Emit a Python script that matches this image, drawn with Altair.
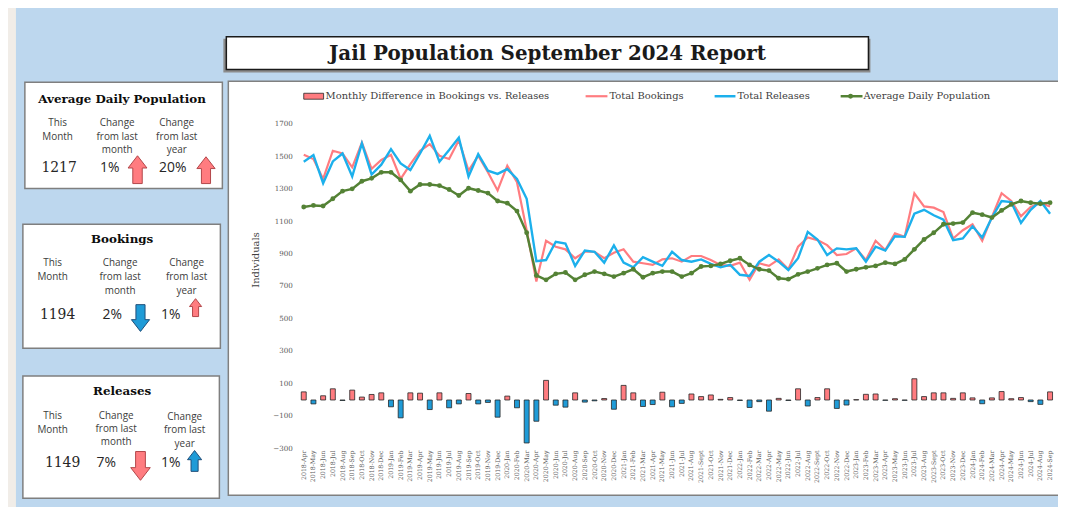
import altair as alt
import pandas as pd

# ---------------- data ----------------
month_abbr = ["Jan", "Feb", "Mar", "Apr", "May", "Jun", "Jul", "Aug", "Sep", "Oct", "Nov", "Dec"]
months = []
for yr in range(2018, 2025):
    for i, m in enumerate(month_abbr):
        if yr == 2018 and i < 3:
            continue
        if yr == 2024 and i > 8:
            continue
        if m == "Sep" and yr in (2021, 2022, 2023):
            m = "Sept"
        months.append(f"{yr}-{m}")

bookings = [1512, 1486, 1363, 1537, 1520, 1435, 1588, 1425, 1480, 1512,
            1363, 1455, 1537, 1578, 1506, 1486, 1602, 1414, 1506, 1404,
            1292, 1445, 1343, 1047, 730, 982, 945, 929, 874, 914,
            914, 874, 908, 929, 853, 843, 833, 867, 874, 853,
            888, 888, 863, 833, 827, 847, 741, 843, 827, 867,
            806, 945, 1002, 986, 955, 894, 900, 935, 863, 982,
            925, 1027, 1006, 1275, 1194, 1186, 1159, 996, 1047, 1084,
            982, 1129, 1275, 1227, 1133, 1190, 1214, 1194]

releases = [1469, 1510, 1337, 1471, 1520, 1378, 1582, 1390, 1451, 1547,
            1459, 1418, 1520, 1629, 1469, 1541, 1618, 1378, 1516, 1414,
            1394, 1424, 1363, 1241, 856, 863, 976, 965, 827, 921,
            914, 847, 953, 847, 818, 880, 853, 827, 914, 863,
            853, 867, 839, 818, 833, 772, 765, 853, 894, 853,
            802, 874, 1037, 990, 894, 935, 929, 935, 853, 945,
            921, 1010, 1006, 1149, 1173, 1139, 1112, 986, 996, 1071,
            1002, 1125, 1227, 1220, 1092, 1173, 1227, 1149]

adp = [1190, 1200, 1196, 1241, 1288, 1302, 1349, 1367, 1404, 1404,
       1357, 1288, 1329, 1329, 1322, 1298, 1261, 1306, 1292, 1276,
       1227, 1214, 1165, 1031, 768, 741, 778, 786, 741, 772,
       792, 778, 761, 782, 806, 757, 782, 792, 792, 761,
       782, 823, 827, 839, 859, 874, 833, 806, 798, 751,
       745, 775, 792, 812, 833, 843, 792, 806, 818, 827,
       847, 839, 867, 929, 990, 1031, 1084, 1088, 1094, 1155,
       1143, 1125, 1169, 1206, 1227, 1216, 1210, 1217]

diff = [50, -24, 26, 69, -3, 61, 18, 34, 44, -42,
        -110, 44, 42, -59, 44, -48, -24, 40, -24, -15,
        -106, 24, -48, -265, -131, 121, -32, -44, 44, -13,
        -5, 9, -57, 90, 44, -40, -28, 48, -42, -21,
        37, 21, 31, 4, 15, -3, -46, -10, -69, 10,
        -3, 69, -37, 15, 69, -52, -31, 2, 35, 37,
        -2, 8, -2, 131, 21, 44, 44, 10, 44, 13,
        -23, 13, 52, 8, 15, -10, -27, 50]

y_ticks = [1700, 1500, 1300, 1100, 900, 700, 500, 300, 100, -100, -300]

legend_labels = ["Monthly Difference in Bookings vs. Releases", "Total Bookings",
                 "Total Releases", "Average Daily Population"]

panel_titles = ["Average Daily Population", "Bookings", "Releases"]
this_month = ["1217", "1194", "1149"]
chg_month = ["1%", "2%", "7%"]
chg_year = ["20%", "1%", "1%"]

df = pd.DataFrame({"month": months, "bookings": bookings, "releases": releases,
                   "adp": adp, "diff": diff})
ticks_df = pd.DataFrame({"tick": y_ticks})
dummy = pd.DataFrame({"a": [0]})

# ---------------- style ----------------
SERIF = "DejaVu Serif"
SANS = "Open Sans"
BEIGE = "#F1EDE8"
PANEL_BLUE = "#BDD7EE"
RED = "#FF7C80"
BLUE = "#1CB0EC"
BAR_BLUE = "#1F9BD7"
GREEN = "#548235"
DARK = "#404040"

OX, OY = 8, 8
def px(x):
    return x - OX
def py(y):
    return y - OY

base = alt.Chart(dummy)

def box(x1, y1, x2, y2, fill, stroke=None, sw=0.0):
    kw = dict(fill=fill)
    if stroke:
        kw.update(stroke=stroke, strokeWidth=sw)
    return base.mark_rect(**kw).encode(
        x=alt.value(px(x1)), x2=alt.value(px(x2)),
        y=alt.value(py(y1)), y2=alt.value(py(y2)))

def txt(s, x, y, size, font=SERIF, weight="normal", color=DARK, align="center", angle=0):
    kw = dict(text=s, fontSize=size, font=font, fontWeight=weight, color=color,
              align=align, baseline="middle")
    if angle:
        kw["angle"] = angle
    return base.mark_text(**kw).encode(x=alt.value(px(x)), y=alt.value(py(y)))

UP = "M0,-1 L0.68,-0.12 L0.34,-0.12 L0.34,1 L-0.34,1 L-0.34,-0.12 L-0.68,-0.12 Z"
DOWN = "M0,1 L0.68,0.12 L0.34,0.12 L0.34,-1 L-0.34,-1 L-0.34,0.12 L-0.68,0.12 Z"

def arrow(cx, cy, h, up, red):
    fill = RED if red else BAR_BLUE
    stroke = "#B2474A" if red else "#1F4E79"
    return base.mark_point(shape=UP if up else DOWN, filled=True, fill=fill, stroke=stroke,
                           strokeWidth=1, opacity=1, size=h * h).encode(
        x=alt.value(px(cx)), y=alt.value(py(cy)))

layers = []
# background panel
layers.append(box(16, 0, 1080, 520, PANEL_BLUE))
# title box
layers.append(box(225, 37, 877, 71, "#8C8C8C"))
layers.append(box(228, 35, 875, 68, "white", "#1a1a1a", 1.5))
layers.append(txt("Jail Population September 2024 Report", 551.5, 52, 20, weight="bold",
                  color="#1a1a1a"))

# left panels
panels = [(25, 81, 224, 188), (23, 224, 222, 349), (23, 377, 221, 500)]
for (x1, y1, x2, y2) in panels:
    layers.append(box(x1, y1, x2, y2, "white", "#7F7F7F", 1.5))

# chart box
layers.append(box(230, 80, 1080, 497, "white", "#808080", 1.5))

# panel 1
layers.append(txt(panel_titles[0], 123, 98, 12, weight="bold", color="#0D0D0D"))
for s, yy in zip(["This", "Month"], [122, 136]):
    layers.append(txt(s, 58, yy, 10, font=SANS))
for s, yy in zip(["Change", "from last", "month"], [122, 136, 149]):
    layers.append(txt(s, 118, yy, 10, font=SANS))
for s, yy in zip(["Change", "from last", "year"], [122, 136, 149]):
    layers.append(txt(s, 178, yy, 10, font=SANS))
layers.append(txt(this_month[0], 59.5, 167, 14, color="#262626"))
layers.append(txt(chg_month[0], 110.5, 167, 14, font=SANS, color="#262626"))
layers.append(txt(chg_year[0], 174, 167, 14, font=SANS, color="#262626"))
layers.append(arrow(138.5, 169, 28, True, True))
layers.append(arrow(207.5, 169.5, 27, True, True))

# panel 2
layers.append(txt(panel_titles[1], 123, 239, 12, weight="bold", color="#0D0D0D"))
for s, yy in zip(["This", "Month"], [263, 277]):
    layers.append(txt(s, 53, yy, 10, font=SANS))
for s, yy in zip(["Change", "from last", "month"], [263, 277, 291]):
    layers.append(txt(s, 121, yy, 10, font=SANS))
for s, yy in zip(["Change", "from last", "year"], [263, 277, 291]):
    layers.append(txt(s, 188, yy, 10, font=SANS))
layers.append(txt(this_month[1], 58, 315, 14, color="#262626"))
layers.append(txt(chg_month[1], 113, 315, 14, font=SANS, color="#262626"))
layers.append(txt(chg_year[1], 172, 315, 14, font=SANS, color="#262626"))
layers.append(arrow(141.5, 318.5, 27, False, False))
layers.append(arrow(197, 308, 18, True, True))

# panel 3
layers.append(txt(panel_titles[2], 123, 392, 12, weight="bold", color="#0D0D0D"))
for s, yy in zip(["This", "Month"], [417, 431]):
    layers.append(txt(s, 53, yy, 10, font=SANS))
for s, yy in zip(["Change", "from last", "month"], [417, 430, 443]):
    layers.append(txt(s, 117, yy, 10, font=SANS))
for s, yy in zip(["Change", "from last", "year"], [418, 431, 445]):
    layers.append(txt(s, 186, yy, 10, font=SANS))
layers.append(txt(this_month[2], 63, 465, 14, color="#262626"))
layers.append(txt(chg_month[2], 107, 465, 14, font=SANS, color="#262626"))
layers.append(txt(chg_year[2], 172, 465, 14, font=SANS, color="#262626"))
layers.append(arrow(141.5, 467.5, 29, False, True))
layers.append(arrow(196, 462.5, 21, True, False))

# legend
layers.append(box(306, 92, 326, 98, RED, "#262626", 0.8))
layers.append(txt(legend_labels[0], 328, 95, 10, align="left"))
layers.append(base.mark_rule(color=RED, strokeWidth=2.2).encode(
    x=alt.value(px(590)), x2=alt.value(px(612)), y=alt.value(py(95))))
layers.append(txt(legend_labels[1], 614, 95, 10, align="left"))
layers.append(base.mark_rule(color=BLUE, strokeWidth=2.5).encode(
    x=alt.value(px(720)), x2=alt.value(px(741)), y=alt.value(py(95))))
layers.append(txt(legend_labels[2], 743, 95, 10, align="left"))
layers.append(base.mark_rule(color=GREEN, strokeWidth=2.5).encode(
    x=alt.value(px(847)), x2=alt.value(px(869)), y=alt.value(py(95))))
layers.append(base.mark_point(filled=True, color=GREEN, size=24, opacity=1).encode(
    x=alt.value(px(857)), y=alt.value(py(95))))
layers.append(txt(legend_labels[3], 870, 95, 10, align="left"))

# axis title
layers.append(txt("Individuals", 258, 260, 10, angle=270))

# ---------------- data layers ----------------
xscale = alt.Scale(type="point", range=[px(306), px(1058)], padding=0)
yscale = alt.Scale(domain=[-300, 1700], range=[py(450.1), py(123.3)], nice=False, zero=False)
xenc = alt.X("month:O", sort=months, scale=xscale, axis=None)

bars = alt.Chart(df).mark_bar(size=5, stroke="#262626", strokeWidth=0.8).encode(
    x=xenc,
    y=alt.Y("diff:Q", scale=yscale, axis=None),
    y2=alt.datum(0),
    fill=alt.when(alt.datum.diff > 0).then(alt.value(RED)).otherwise(alt.value(BAR_BLUE)),
)
red_line = alt.Chart(df).mark_line(color=RED, strokeWidth=2.2).encode(
    x=xenc, y=alt.Y("bookings:Q", scale=yscale, axis=None))
blue_line = alt.Chart(df).mark_line(color=BLUE, strokeWidth=2.4).encode(
    x=xenc, y=alt.Y("releases:Q", scale=yscale, axis=None))
green_line = alt.Chart(df).mark_line(
    color=GREEN, strokeWidth=2.5,
    point=alt.OverlayMarkDef(filled=True, size=24, color=GREEN, opacity=1)).encode(
    x=xenc, y=alt.Y("adp:Q", scale=yscale, axis=None))

xlabels = alt.Chart(df).mark_text(angle=270, align="right", baseline="middle", fontSize=6.3,
                                  font=SERIF, color="#595959").encode(
    x=xenc, y=alt.value(py(452)), text="month:N")
ylabels = alt.Chart(ticks_df).mark_text(align="right", baseline="middle", fontSize=7.2,
                                        font=SERIF, color="#595959").encode(
    x=alt.value(px(295)), y=alt.Y("tick:Q", scale=yscale, axis=None), text="tick:Q")

layers += [bars, red_line, blue_line, green_line, xlabels, ylabels]

chart = alt.layer(*layers).properties(
    width=1058, height=499,
    autosize=alt.AutoSizeParams(type="none"),
    padding=0,
    background=BEIGE,
).configure_view(stroke=None)

chart.save("out.html", embed_options={"renderer": "svg", "actions": False})
